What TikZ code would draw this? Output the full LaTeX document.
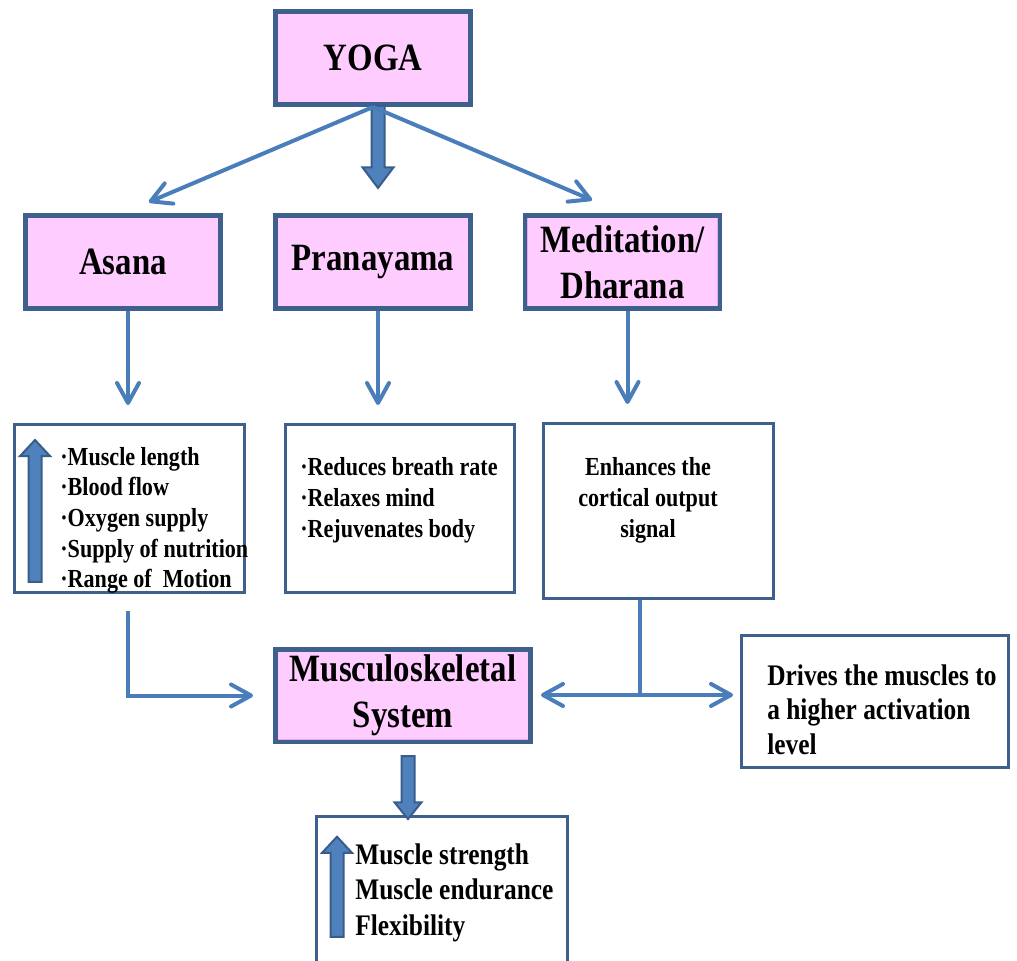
\documentclass[tikz,border=0pt]{standalone}
\usepackage{fontspec}
\setmainfont{Liberation Serif}[FakeStretch=0.85]
\usetikzlibrary{positioning,calc,arrows.meta,shapes.arrows}

\definecolor{boxline}{RGB}{61,96,141}
\definecolor{arrowblue}{RGB}{74,126,187}
\definecolor{pinkfill}{RGB}{255,204,255}
\definecolor{pinkshade}{RGB}{230,168,230}
\definecolor{blockfill}{RGB}{79,129,189}
\definecolor{blockline}{RGB}{56,93,138}

\tikzset{
  titlebox/.style={draw=boxline, line width=0.09cm, fill=pinkfill, inner sep=0pt,
    minimum width=3.91cm, minimum height=1.87cm, align=center,
    font=\bfseries\fontsize{22}{26}\selectfont,
    path picture={\draw[pinkshade, line width=0.12cm] (path picture bounding box.south west) rectangle (path picture bounding box.north east);}},
  listbox/.style={draw=boxline, line width=0.06cm, inner sep=0pt},
  listtext/.style={inner sep=0pt, align=left, font=\bfseries\fontsize{14.8}{17.4}\selectfont},
  conn/.style={arrowblue, line width=0.08cm, -{Straight Barb[length=0.4cm,width=0.44cm,round]}},
  plain/.style={arrowblue, line width=0.08cm},
  blockarrow/.style={single arrow, draw=blockline, fill=blockfill, line width=0.04cm,
    inner xsep=0pt, inner ysep=0.11cm, single arrow head indent=0pt}
}

\begin{document}
\begin{tikzpicture}[x=0.02cm, y=-0.02cm]
  \useasboundingbox (0,0) rectangle (1017,960);

  % pink boxes
  \node[titlebox] (yoga) at (373,58) {YOGA};
  \node[titlebox] (asana) at (123,262) {Asana};
  \node[titlebox] (prana) at (373,262) {Pranayama};
  \node[titlebox] (medit) at (622.5,262) {Meditation/\\Dharana};
  \node[titlebox, minimum width=5.11cm, minimum height=1.85cm] (musc) at (403,695.5) {Musculoskeletal\\System};

  % effect boxes
  \node[listbox, minimum width=4.6cm, minimum height=3.36cm] (asanalist) at (129.5,508.5) {};
  \node[listbox, minimum width=4.58cm, minimum height=3.36cm] (pranalist) at (400,508.5) {};
  \node[listbox, minimum width=4.6cm, minimum height=3.5cm] (meditlist) at (658.5,511) {};
  \node[listbox, minimum width=5.34cm, minimum height=2.64cm] (drives) at (875,701.5) {};
  \node[listbox, minimum width=5.02cm, minimum height=3.67cm] (result) at (442,908) {};

  \node[listtext, anchor=north west] (asanatxt) at (60,447)
    {·Muscle length\\·Blood flow\\·Oxygen supply\\·Supply of nutrition\\·Range of\ \ Motion};
  \node[listtext, anchor=north west, font=\bfseries\fontsize{14.8}{17.6}\selectfont] (pranatxt) at (300,457)
    {·Reduces breath rate\\·Relaxes mind\\·Rejuvenates body};
  \node[listtext, anchor=north, align=center, font=\bfseries\fontsize{14.8}{17.6}\selectfont] (medittxt) at (648,457)
    {Enhances the\\cortical output\\signal};
  \node[listtext, anchor=north west, font=\bfseries\fontsize{17}{19.8}\selectfont] (drivetxt) at (767,664)
    {Drives the muscles to\\a higher activation\\level};
  \node[listtext, anchor=north west, font=\bfseries\fontsize{17}{20.4}\selectfont] (resulttxt) at (355,843)
    {Muscle strength\\Muscle endurance\\Flexibility};

  % block arrows
  \node[blockarrow, minimum height=1.64cm, single arrow head extend=0.18cm,
    single arrow tip angle=74, rotate=-90, anchor=west] (down1) at ([xshift=0.1cm, yshift=0.04cm]yoga.south) {};
  \node[blockarrow, minimum height=1.26cm, single arrow head extend=0.14cm,
    single arrow tip angle=78, rotate=-90, anchor=west] (down2) at ([xshift=0.1cm, yshift=-0.22cm]musc.south) {};
  \node[blockarrow, minimum height=2.84cm, single arrow head extend=0.17cm,
    single arrow tip angle=86, rotate=90, anchor=west] (up1) at ([xshift=0.44cm, yshift=0.22cm]asanalist.south west) {};
  \node[blockarrow, minimum height=2cm, single arrow head extend=0.17cm,
    single arrow tip angle=86, rotate=90, anchor=west] (up2) at ([xshift=0.44cm, yshift=-2.46cm]result.north west) {};

  % connectors
  \draw[conn, shorten >=0.56cm] (yoga.south) -- (asana.north);
  \draw[conn, shorten >=0.66cm] (yoga.south) -- (medit.north);
  \draw[conn, shorten >=0.36cm] ([xshift=0.1cm]asana.south) -- ([xshift=0.1cm]asana.south |- asanalist.north);
  \draw[conn, shorten >=0.36cm] ([xshift=0.1cm]prana.south) -- ([xshift=0.1cm]prana.south |- pranalist.north);
  \draw[conn, shorten >=0.36cm] ([xshift=0.1cm]medit.south) -- ([xshift=0.1cm]medit.south |- meditlist.north);
  \draw[conn, shorten >=0.4cm] ([xshift=-0.03cm, yshift=-0.34cm]asanalist.south) |- (musc.west);

  \coordinate (split) at ([xshift=-0.37cm, yshift=-1.9cm]meditlist.south);
  \draw[plain] (meditlist.south -| split) -- (split);
  \draw[conn, shorten >=0.16cm] (split) -- (split -| musc.east);
  \draw[conn, shorten >=0.14cm] (split) -- (split -| drives.west);
\end{tikzpicture}
\end{document}
